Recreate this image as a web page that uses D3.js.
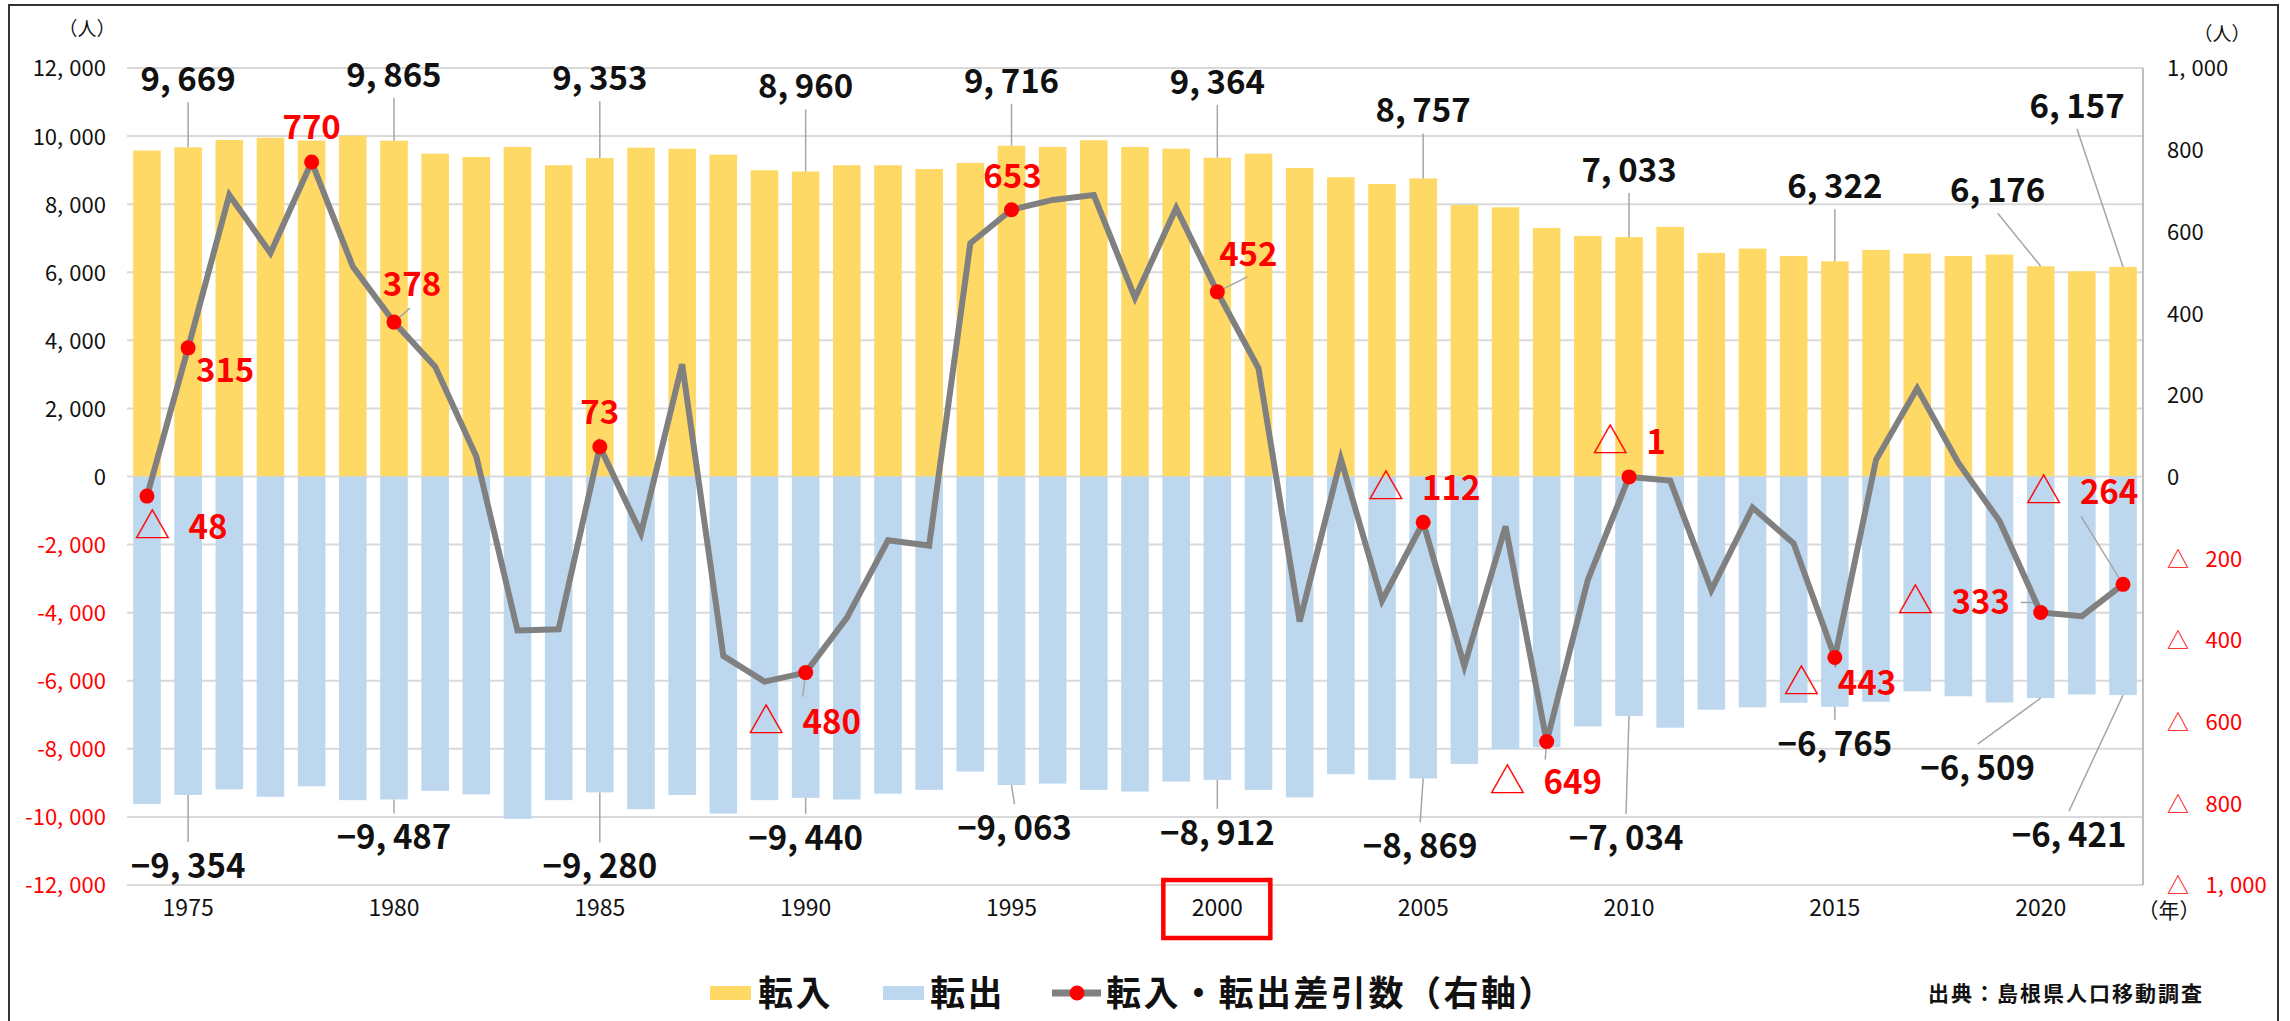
<!DOCTYPE html>
<html>
<head>
<meta charset="utf-8">
<script src="https://cdn.jsdelivr.net/npm/d3@7"></script>
<style>
body { margin: 0; background: #fff; }
svg text { font-family: "Noto Sans CJK JP", "Noto Sans", sans-serif; }
</style>
</head>
<body>
<svg id="chart" width="2290" height="1021"></svg>
<script>
// 島根県 転入・転出 (1974-2022)
var years = d3.range(1974, 2023);

var inflow = [
  9575, 9669, 9886, 9953, 9870, 10012, 9865, 9483, 9386, 9680,
  9143, 9353, 9660, 9630, 9454, 8996, 8960, 9143, 9143, 9034,
  9210, 9716, 9680, 9877, 9680, 9630, 9364, 9483, 9064, 8790,
  8594, 8757, 7977, 7909, 7302, 7067, 7033, 7331, 6568, 6694,
  6480, 6322, 6656, 6547, 6480, 6518, 6176, 6030, 6157
];

var outflow = [
  -9623, -9354, -9193, -9408, -9100, -9508, -9487, -9235, -9337, -10057,
  -9508, -9280, -9772, -9355, -9904, -9508, -9440, -9488, -9317, -9205,
  -8667, -9063, -9022, -9205, -9255, -8961, -8912, -9205, -9428, -8747,
  -8911, -8869, -8444, -8009, -7951, -7342, -7034, -7379, -6850, -6780,
  -6648, -6765, -6618, -6313, -6456, -6639, -6509, -6403, -6421
];

var net = [
  -48, 315, 689, 547, 770, 514, 378, 269, 49, -377,
  -374, 73, -139, 275, -439, -502, -480, -346, -156, -169,
  571, 653, 677, 689, 437, 657, 452, 265, -355, 43,
  -304, -112, -464, -122, -649, -253, -1, -10, -278, -76,
  -164, -443, 41, 216, 33, -109, -333, -342, -264
];

var xTicks = [1975, 1980, 1985, 1990, 1995, 2000, 2005, 2010, 2015, 2020];
var leftTicks = [-12000, -10000, -8000, -6000, -4000, -2000, 0, 2000, 4000, 6000, 8000, 10000, 12000];
var rightTicks = [-1000, -800, -600, -400, -200, 0, 200, 400, 600, 800, 1000];

// label placement (pixel offsets from the bar end / marker)
var inLabelPos = {1975: [0, -68], 1980: [0, -66], 1985: [0, -80], 1990: [0, -85], 1995: [0, -65],
  2000: [0, -76], 2005: [0, -68], 2010: [0, -67], 2015: [0, -75], 2020: [-43, -76], 2022: [-46, -161]};
var outLabelPos = {1975: [0, 71], 1980: [0, 38], 1985: [0, 74], 1990: [0, 40], 1995: [3, 43],
  2000: [0, 53], 2005: [-3, 68], 2010: [-3, 122], 2015: [0, 37], 2020: [-63, 70], 2022: [-54, 140]};
var netLabelPos = {
  1974: {d: [34, 31]}, 1975: {d: [37, 22]}, 1978: {d: [0, -35]},
  1980: {d: [18, -38], lead: [[16, -14]]}, 1985: {d: [0, -35]},
  1990: {d: [-1, 50], lead: [[-3, 24]]}, 1995: {d: [1, -34]},
  2000: {d: [31, -38], lead: [[30, -15]]}, 2005: {d: [1, -34]},
  2008: {d: [-1, 41], lead: [[-1.5, 18]]}, 2010: {d: [0, -35]}, 2015: {d: [5, 26]},
  2020: {d: [-87, -10], lead: [[-7.5, -10], [-20, -10]]},
  2022: {d: [-41, -92], lead: [[-42, -68]]}
};

var yellow = "#ffd966", blue = "#bdd7ee", gray = "#808080", red = "#ff0000";

var plotL = 127, plotR = 2143, plotT = 68, plotB = 885;

var svg = d3.select("#chart");

var x = d3.scaleBand().domain(years).range([plotL, plotR]).paddingInner(0.33).paddingOuter(0.15);
var y = d3.scaleLinear().domain([-12000, 12000]).range([plotB, plotT]);
var yR = d3.scaleLinear().domain([-1000, 1000]).range([plotB, plotT]);
var cx = function (yr) { return x(yr) + x.bandwidth() / 2; };
var fmt = d3.format(",");

// number text with a wide comma, like the original font
function numText(t, str, gap) {
  var k = str.indexOf(",");
  if (k < 0) { t.append("tspan").text(str); return; }
  t.append("tspan").text(str.slice(0, k + 1));
  t.append("tspan").attr("dx", gap || "0.28em").text(str.slice(k + 1));
}
function triText(t, v, gap, tri) {
  var tr = t.append("tspan").attr("font-weight", "normal").text("△");
  if (tri) tr.attr("font-size", tri);
  var s = t.append("tspan").attr("dx", gap);
  var str = fmt(v), k = str.indexOf(",");
  if (k < 0) { s.text(str); return; }
  s.text(str.slice(0, k + 1));
  t.append("tspan").attr("dx", "0.28em").text(str.slice(k + 1));
}

// frame
svg.append("rect").attr("x", 9).attr("y", 5).attr("width", 2269).attr("height", 1030)
  .attr("fill", "none").attr("stroke", "#333").attr("stroke-width", 2);

// grid
svg.append("g").selectAll("line").data(leftTicks).join("line")
  .attr("x1", plotL).attr("x2", plotR)
  .attr("y1", function (d) { return y(d); }).attr("y2", function (d) { return y(d); })
  .attr("stroke", "#d9d9d9").attr("stroke-width", 2);
svg.append("line").attr("x1", plotR).attr("x2", plotR).attr("y1", plotT).attr("y2", plotB)
  .attr("stroke", "#bfbfbf").attr("stroke-width", 2);

// bars
svg.append("g").selectAll("rect").data(years).join("rect")
  .attr("x", function (d) { return x(d); }).attr("width", x.bandwidth())
  .attr("y", function (d, i) { return y(inflow[i]); })
  .attr("height", function (d, i) { return y(0) - y(inflow[i]); })
  .attr("fill", yellow);
svg.append("g").selectAll("rect").data(years).join("rect")
  .attr("x", function (d) { return x(d); }).attr("width", x.bandwidth())
  .attr("y", y(0))
  .attr("height", function (d, i) { return y(outflow[i]) - y(0); })
  .attr("fill", blue);

// axes
var yAxis = d3.axisLeft(y).tickValues(leftTicks).tickSize(0).tickPadding(21)
  .tickFormat(function (d) { return d < 0 ? "-" + fmt(-d) : fmt(d); });
var yAxisGroup = svg.append("g").attr("transform", "translate(" + plotL + ",0)").call(yAxis);
yAxisGroup.select(".domain").remove();
yAxisGroup.selectAll("text").each(function (d) {
  var t = d3.select(this), s = t.text();
  t.text(null); numText(t, s);
  t.attr("fill", d < 0 ? red : "#111").attr("font-size", 22).attr("font-family", null).attr("dy", "0.36em");
});

var yRAxis = d3.axisRight(yR).tickValues(rightTicks).tickSize(0).tickPadding(24).tickFormat(fmt);
var yRAxisGroup = svg.append("g").attr("transform", "translate(" + plotR + ",0)").call(yRAxis);
yRAxisGroup.select(".domain").remove();
yRAxisGroup.selectAll("text").each(function (d) {
  var t = d3.select(this);
  t.text(null);
  if (d < 0) triText(t, -d, "0.75em"); else numText(t, fmt(d));
  t.attr("fill", d < 0 ? red : "#111").attr("font-size", 22).attr("font-family", null).attr("dy", "0.36em");
});

var xAxis = d3.axisBottom(x).tickValues(xTicks).tickSize(0).tickPadding(15);
var xAxisGroup = svg.append("g").attr("transform", "translate(0," + plotB + ")").call(xAxis);
xAxisGroup.select(".domain").remove();
xAxisGroup.selectAll("text").attr("font-size", 23).attr("font-family", null).attr("fill", "#111");

// 2000 highlight box
svg.append("rect").attr("x", cx(2000) - 54).attr("y", 880).attr("width", 107).attr("height", 58)
  .attr("fill", "none").attr("stroke", red).attr("stroke-width", 4.5);

// units
svg.append("text").attr("x", 87).attr("y", 29).attr("dy", "0.36em").attr("text-anchor", "middle")
  .attr("font-size", 19).attr("fill", "#111").text("（人）");
svg.append("text").attr("x", 2222).attr("y", 34).attr("dy", "0.36em").attr("text-anchor", "middle")
  .attr("font-size", 19).attr("fill", "#111").text("（人）");
svg.append("text").attr("x", 2169).attr("y", 910).attr("dy", "0.36em").attr("text-anchor", "middle")
  .attr("font-size", 21).attr("fill", "#111").text("（年）");

// leaders for in/out labels
var leaders = svg.append("g").attr("stroke", "#a6a6a6").attr("stroke-width", 1.5).attr("fill", "none");
var labels = svg.append("g").attr("font-size", 33).attr("font-weight", "bold").attr("text-anchor", "middle");

Object.keys(inLabelPos).forEach(function (k) {
  var yr = +k, i = years.indexOf(yr), p = inLabelPos[k];
  var ax = cx(yr), ay = y(inflow[i]), tx = ax + p[0], ty = ay + p[1];
  leaders.append("line").attr("x1", ax).attr("y1", ay).attr("x2", tx).attr("y2", ty + 23);
  var t = labels.append("text").attr("x", tx).attr("y", ty).attr("dy", "0.36em").attr("fill", "#111");
  numText(t, fmt(inflow[i]), "0.2em");
});
Object.keys(outLabelPos).forEach(function (k) {
  var yr = +k, i = years.indexOf(yr), p = outLabelPos[k];
  var ax = cx(yr), ay = y(outflow[i]), tx = ax + p[0], ty = ay + p[1];
  leaders.append("line").attr("x1", ax).attr("y1", ay).attr("x2", tx).attr("y2", ty - 24);
  var t = labels.append("text").attr("x", tx).attr("y", ty).attr("dy", "0.36em").attr("fill", "#111");
  numText(t, "−" + fmt(-outflow[i]), "0.2em");
});

// net line
var line = d3.line().x(function (d) { return cx(d); }).y(function (d, i) { return yR(net[i]); });
svg.append("path").datum(years).attr("d", line)
  .attr("fill", "none").attr("stroke", gray).attr("stroke-width", 6);

Object.keys(netLabelPos).forEach(function (k) {
  var yr = +k, i = years.indexOf(yr), p = netLabelPos[k];
  var ax = cx(yr), ay = yR(net[i]);
  if (p.lead) {
    var pts = [[ax, ay]].concat(p.lead.map(function (q) { return [ax + q[0], ay + q[1]]; }));
    leaders.append("path").attr("d", d3.line()(pts));
  }
  svg.append("circle").attr("cx", ax).attr("cy", ay).attr("r", 7.5).attr("fill", red);
  var t = labels.append("text").attr("x", ax + p.d[0]).attr("y", ay + p.d[1]).attr("dy", "0.36em").attr("fill", red);
  if (net[i] < 0) triText(t, -net[i], "0.55em", 36); else numText(t, fmt(net[i]));
});
labels.raise();

// legend
var lg = svg.append("g").attr("font-size", 35).attr("font-weight", "bold").attr("letter-spacing", 2.5).attr("fill", "#111");
lg.append("rect").attr("x", 710).attr("y", 986).attr("width", 41).attr("height", 14).attr("fill", yellow);
lg.append("text").attr("x", 758).attr("y", 993).attr("dy", "0.36em").text("転入");
lg.append("rect").attr("x", 883).attr("y", 986).attr("width", 41).attr("height", 14).attr("fill", blue);
lg.append("text").attr("x", 930).attr("y", 993).attr("dy", "0.36em").text("転出");
lg.append("line").attr("x1", 1052).attr("x2", 1101).attr("y1", 993).attr("y2", 993)
  .attr("stroke", gray).attr("stroke-width", 7);
lg.append("circle").attr("cx", 1077).attr("cy", 993).attr("r", 7.5).attr("fill", red);
lg.append("text").attr("x", 1106).attr("y", 993).attr("dy", "0.36em").text("転入・転出差引数（右軸）");

svg.append("text").attr("x", 1928).attr("y", 993).attr("dy", "0.36em")
  .attr("font-size", 21).attr("font-weight", "bold").attr("letter-spacing", 2).attr("fill", "#111")
  .text("出典：島根県人口移動調査");
</script>
</body>
</html>
